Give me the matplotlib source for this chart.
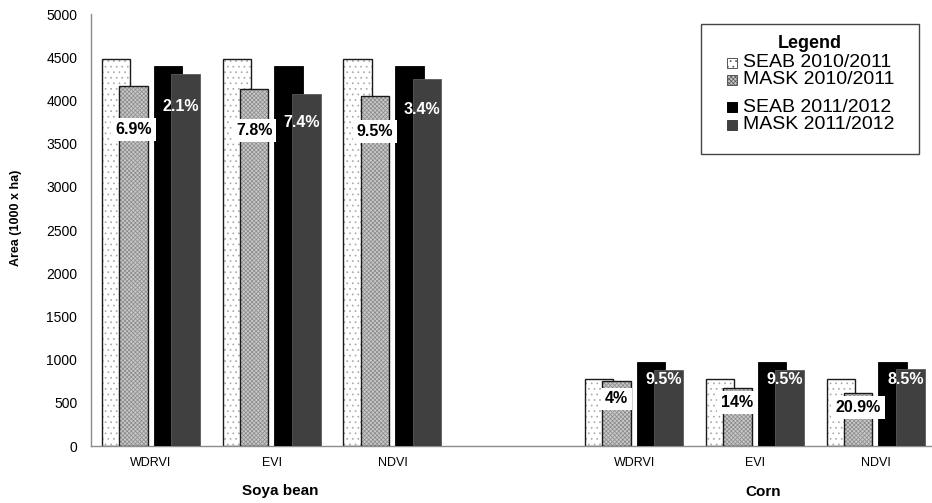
import numpy as np
import matplotlib
matplotlib.use("Agg")
import matplotlib.pyplot as plt
from matplotlib.patches import Rectangle
from matplotlib.transforms import blended_transform_factory

plt.rcParams["font.family"] = ["Liberation Sans", "DejaVu Sans"]
plt.rcParams["hatch.linewidth"] = 0.5

# ---- data -------------------------------------------------------------
indices = ["WDRVI", "EVI", "NDVI", "WDRVI", "EVI", "NDVI"]
crops = ["Soya bean", "Corn"]
slots = [0, 1, 2, 4, 5, 6]          # category slots (slot 3 left empty)

seab_1011 = [4480, 4480, 4480, 780, 780, 780]
mask_1011 = [4170, 4130, 4055, 748, 670, 618]
seab_1112 = [4400, 4400, 4400, 975, 975, 975]
mask_1112 = [4305, 4075, 4250, 882, 882, 892]

pct_1011 = ["6.9%", "7.8%", "9.5%", "4%", "14%", "20.9%"]
pct_1112 = ["2.1%", "7.4%", "3.4%", "9.5%", "9.5%", "8.5%"]

series_names = ["SEAB 2010/2011", "MASK 2010/2011", "SEAB 2011/2012", "MASK 2011/2012"]
y_ticks = [0, 500, 1000, 1500, 2000, 2500, 3000, 3500, 4000, 4500, 5000]

# ---- layout -----------------------------------------------------------
W, H = 932, 503
label_y_1011 = [3660, 3655, 3640, 544, 498, 440]
label_y_1112 = [3927, 3742, 3889, 764, 764, 764]
offsets = [-0.289, -0.146, 0.141, 0.286]
bw = 0.236


def px(x, y):
    return x / W, 1 - y / H


fig = plt.figure(figsize=(W / 100, H / 100), dpi=100)
ax = fig.add_axes([90.5 / W, 1 - 446 / H, 845.6 / W, 432 / H])
ax.set_xlim(-0.5, 6.5)
ax.set_ylim(0, 5000)

x = np.array(slots, dtype=float)

# SEAB 2010/2011: dotted white bars
ax.bar(x + offsets[0], seab_1011, bw, color="white", edgecolor="#a8a8a8",
       hatch="...", linewidth=0, zorder=2)
ax.bar(x + offsets[0], seab_1011, bw, fill=False, edgecolor="#1a1a1a",
       linewidth=1.0, zorder=2.1)
# MASK 2010/2011: fine grey texture
ax.bar(x + offsets[1], mask_1011, bw, color="#c8c8c8", edgecolor="#8a8a8a",
       hatch="xxxxxxxx", linewidth=0, zorder=3)
ax.bar(x + offsets[1], mask_1011, bw, fill=False, edgecolor="#1a1a1a",
       linewidth=1.0, zorder=3.1)
# 2011/2012 solid bars
ax.bar(x + offsets[2], seab_1112, bw, color="black", edgecolor="black",
       linewidth=0.6, zorder=4)
ax.bar(x + offsets[3], mask_1112, bw, color="#404040", edgecolor="#5a5a5a",
       linewidth=0.6, zorder=5)

# percentage labels
for xi, ly, t in zip(x, label_y_1011, pct_1011):
    ax.text(xi + offsets[1], ly, t, ha="center", va="center", fontsize=11.5,
            fontweight="bold", color="black", zorder=10,
            bbox=dict(boxstyle="square,pad=0.25", facecolor="white",
                      edgecolor="none"))
for xi, ly, t in zip(x, label_y_1112, pct_1112):
    ax.text(xi + offsets[3] - 0.04, ly, t, ha="center", va="center",
            fontsize=11.5, fontweight="bold", color="white", zorder=10)

# axes styling
for s in ["top", "right"]:
    ax.spines[s].set_visible(False)
for s in ["left", "bottom"]:
    ax.spines[s].set_color("#8c8c8c")
    ax.spines[s].set_linewidth(1.0)
ax.set_yticks(y_ticks)
ax.set_yticklabels([str(v) for v in y_ticks])
ax.tick_params(axis="y", length=0, pad=9.5, labelsize=10)
ax.set_xticks(x)
ax.set_xticklabels(indices)
ax.tick_params(axis="x", length=0, pad=8, labelsize=9)

# crop group labels below the index labels
trans = blended_transform_factory(ax.transData, fig.transFigure)
for crop, grp in zip(crops, [x[:3], x[3:]]):
    ax.text(grp.mean() + 0.07, 1 - 491.5 / H, crop, transform=trans,
            ha="center", va="center", fontsize=11, fontweight="bold")

fig.text(*px(15.7, 218), "Area (1000 x ha)", rotation=90, ha="center",
         va="center", fontsize=9, fontweight="bold")

# legend box
x0, y0, x1, y1 = 700.7, 24, 919, 154
fig.patches.append(Rectangle(px(x0, y1), (x1 - x0) / W, (y1 - y0) / H,
                             transform=fig.transFigure, facecolor="white",
                             edgecolor="#444444", linewidth=1.0, zorder=20))
fig.text(*px(810, 43.3), "Legend", ha="center", va="center", fontsize=13,
         fontweight="bold", zorder=21)
row_y = [62.7, 80, 107.3, 124.7]
styles = [
    dict(facecolor="white", edgecolor="#555555", hatch="..."),
    dict(facecolor="#c8c8c8", edgecolor="#555555", hatch="xxxxxxxx"),
    dict(facecolor="black", edgecolor="black"),
    dict(facecolor="#404040", edgecolor="#404040"),
]
sq = 10
for ry, name, st in zip(row_y, series_names, styles):
    fig.patches.append(Rectangle(px(727, ry + sq / 2), sq / W, sq / H,
                                 transform=fig.transFigure, linewidth=0.7,
                                 zorder=21, **st))
    fig.text(*px(743, ry), name, ha="left", va="center", fontsize=14,
             zorder=21)

fig.savefig("out.png", dpi=100)
